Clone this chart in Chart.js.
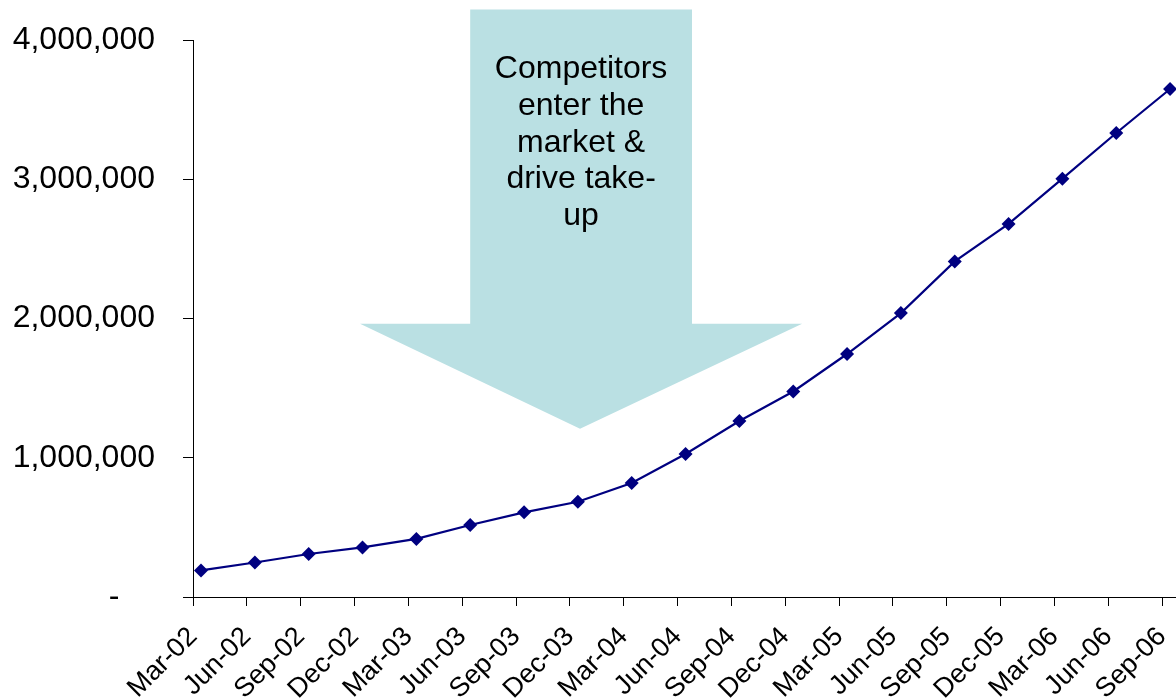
<!DOCTYPE html>
<html>
<head>
<meta charset="utf-8">
<script src="https://cdn.jsdelivr.net/npm/chart.js@4/dist/chart.umd.min.js"></script>
<style>
  html, body { margin: 0; padding: 0; background: #ffffff; }
  #wrap { width: 1176px; height: 698px; }
</style>
</head>
<body>
<div id="wrap"><canvas id="c" width="1176" height="698"></canvas></div>
<script>
// ---- data ----
const categories = ["Mar-02","Jun-02","Sep-02","Dec-02","Mar-03","Jun-03","Sep-03","Dec-03","Mar-04","Jun-04","Sep-04","Dec-04","Mar-05","Jun-05","Sep-05","Dec-05","Mar-06","Jun-06","Sep-06"];
const subscribers = [191000, 248000, 309000, 356000, 417000, 517000, 608000, 684000, 819000, 1027000, 1264000, 1476000, 1745000, 2039000, 2410000, 2679000, 3004000, 3332000, 3648000];
const yTickLabels = ["-    ", "1,000,000", "2,000,000", "3,000,000", "4,000,000"];
const calloutLines = ["Competitors", "enter the", "market &", "drive take-", "up"];

// ---- arrow callout geometry (in scale units: category index / value) ----
const arrowShape = {
  shaftLeft: 5.0, shaftRight: 9.12, top: 4219000,
  headTop: 1963000, headLeft: 2.954, headRight: 11.165,
  tipX: 7.04, tipY: 1209000
};

const FONT = "'Liberation Sans', Arial, sans-serif";

const arrowPlugin = {
  id: 'arrowCallout',
  beforeDatasetsDraw(chart) {
    const { ctx, scales: { x, y } } = chart;
    const a = arrowShape;
    const px = v => x.getPixelForValue(v);
    const py = v => y.getPixelForValue(v);
    ctx.save();
    ctx.fillStyle = '#BAE0E3';
    ctx.beginPath();
    ctx.moveTo(px(a.shaftLeft), py(a.top));
    ctx.lineTo(px(a.shaftRight), py(a.top));
    ctx.lineTo(px(a.shaftRight), py(a.headTop));
    ctx.lineTo(px(a.headRight), py(a.headTop));
    ctx.lineTo(px(a.tipX), py(a.tipY));
    ctx.lineTo(px(a.headLeft), py(a.headTop));
    ctx.lineTo(px(a.shaftLeft), py(a.headTop));
    ctx.closePath();
    ctx.fill();
    ctx.fillStyle = '#000000';
    ctx.font = '32px ' + FONT;
    ctx.textAlign = 'center';
    ctx.textBaseline = 'middle';
    const cx = (px(a.shaftLeft) + px(a.shaftRight)) / 2;
    const y0 = py(a.top) + 60;
    calloutLines.forEach((t, i) => ctx.fillText(t, cx, y0 + i * 36.6));
    ctx.restore();
  }
};

new Chart(document.getElementById('c'), {
  type: 'line',
  data: {
    datasets: [{
      data: subscribers.map((v, i) => ({ x: i, y: v })),
      borderColor: '#000080',
      backgroundColor: '#000080',
      borderWidth: 2.2,
      pointStyle: 'rectRot',
      pointRadius: 7,
      pointHoverRadius: 7,
      pointBorderWidth: 0,
      fill: false,
      tension: 0,
      clip: false
    }]
  },
  options: {
    responsive: false,
    devicePixelRatio: 1,
    animation: false,
    layout: { autoPadding: false, padding: { top: 40, right: 0, left: 0, bottom: 0 } },
    plugins: { legend: { display: false }, tooltip: { enabled: false } },
    scales: {
      x: {
        type: 'linear',
        min: -0.149,
        max: 18.11,
        afterBuildTicks(scale) {
          scale.ticks = categories.map((_, i) => ({ value: i - 0.149 }));
        },
        afterFit(scale) {
          scale.height = 101;
          scale.paddingLeft = 0;
          scale.paddingRight = 0;
        },
        ticks: {
          autoSkip: false,
          minRotation: 45,
          maxRotation: 45,
          padding: 15,
          color: '#000000',
          font: { family: FONT, size: 27 },
          callback: (v, i) => categories[i]
        },
        grid: { drawOnChartArea: false, drawTicks: true, tickLength: 9, color: '#000000', lineWidth: 1 },
        border: { display: true, color: '#000000', width: 1 }
      },
      y: {
        min: 0,
        max: 4000000,
        afterBuildTicks(scale) {
          scale.ticks = yTickLabels.map((_, i) => ({ value: i * 1000000 }));
        },
        afterFit(scale) {
          scale.width = 193;
          scale.paddingTop = 0;
          scale.paddingBottom = 0;
        },
        ticks: {
          padding: 28,
          color: '#000000',
          font: { family: FONT, size: 32 },
          callback: (v, i) => yTickLabels[i]
        },
        grid: { drawOnChartArea: false, drawTicks: true, tickLength: 10, color: '#000000', lineWidth: 1 },
        border: { display: true, color: '#000000', width: 1 }
      }
    }
  },
  plugins: [arrowPlugin]
});
</script>
</body>
</html>
